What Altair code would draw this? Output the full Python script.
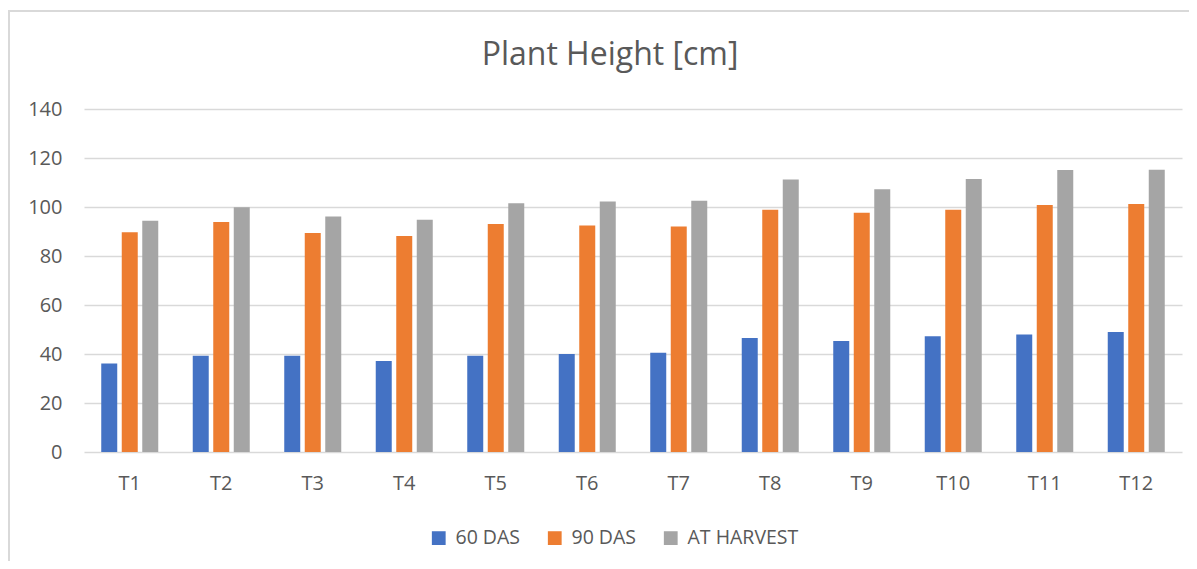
import altair as alt
import pandas as pd

treatments = ["T1", "T2", "T3", "T4", "T5", "T6", "T7", "T8", "T9", "T10", "T11", "T12"]
das60 = [36.1, 39.3, 39.3, 37.1, 39.3, 40.0, 40.5, 46.5, 45.3, 47.2, 48.0, 49.0]
das90 = [89.7, 93.9, 89.4, 88.2, 93.1, 92.4, 92.0, 98.9, 97.7, 98.9, 100.8, 101.2]
harvest = [94.4, 99.9, 96.1, 94.8, 101.5, 102.2, 102.6, 111.2, 107.2, 111.4, 115.1, 115.2]
series = ["60 DAS", "90 DAS", "AT HARVEST"]
colors = ["#4472C4", "#ED7D31", "#A5A5A5"]
y_ticks = [0, 20, 40, 60, 80, 100, 120, 140]
title_text = ["Plant Height [cm]"]

rows = []
for name, vals in zip(series, [das60, das90, harvest]):
    for t, v in zip(treatments, vals):
        rows.append({"Treatment": t, "Series": name, "Height": v})
df = pd.DataFrame(rows)

FONT = "Open Sans"
GREY_TEXT = "#595959"

bars = alt.Chart(df).mark_bar().encode(
    x=alt.X("Treatment:N", sort=treatments,
            scale=alt.Scale(paddingInner=0.377, paddingOuter=0.1885),
            axis=alt.Axis(title=None, labelAngle=0, domain=False, ticks=False, tickSize=0,
                          labelPadding=21, labelFontSize=20, labelFont=FONT,
                          labelColor=GREY_TEXT, grid=False)),
    xOffset=alt.XOffset("Series:N", sort=series,
                        scale=alt.Scale(paddingInner=0.22, paddingOuter=0)),
    y=alt.Y("Height:Q", scale=alt.Scale(domain=[0, 140], nice=False),
            axis=alt.Axis(title=None, values=y_ticks, domain=False, ticks=False, tickSize=0,
                          labelPadding=22, labelFontSize=20, labelFont=FONT,
                          labelColor=GREY_TEXT, gridColor="#d9d9d9", gridWidth=1.3)),
    color=alt.Color("Series:N", sort=series,
                    scale=alt.Scale(domain=series, range=colors),
                    legend=alt.Legend(title=None, orient="none", direction="horizontal",
                                      legendX=345, legendY=419, symbolType="square",
                                      symbolSize=190, symbolStrokeWidth=0,
                                      labelFontSize=19.5, labelFont=FONT, labelColor=GREY_TEXT,
                                      labelOffset=7, columnPadding=24, padding=0)),
)

frame = alt.Chart(pd.DataFrame({"k": [0]})).mark_rect(
    fill=None, stroke="#d9d9d9", strokeWidth=2
).encode(
    x=alt.value(-75), x2=alt.value(1200), y=alt.value(-98), y2=alt.value(600)
)

title = alt.Chart(pd.DataFrame({"t": title_text})).mark_text(
    font=FONT, fontSize=32, color=GREY_TEXT, align="center", baseline="alphabetic"
).encode(
    text="t:N", x=alt.value(526), y=alt.value(-44)
)

chart = alt.layer(frame, bars, title).properties(
    width=1098,
    height=343,
    padding={"left": 76, "top": 101, "right": 7, "bottom": 109},
    autosize=alt.AutoSizeParams(type="none"),
).configure(background="white").configure_view(stroke=None)

chart.save("out.html", embed_options={"renderer": "svg", "actions": False})
